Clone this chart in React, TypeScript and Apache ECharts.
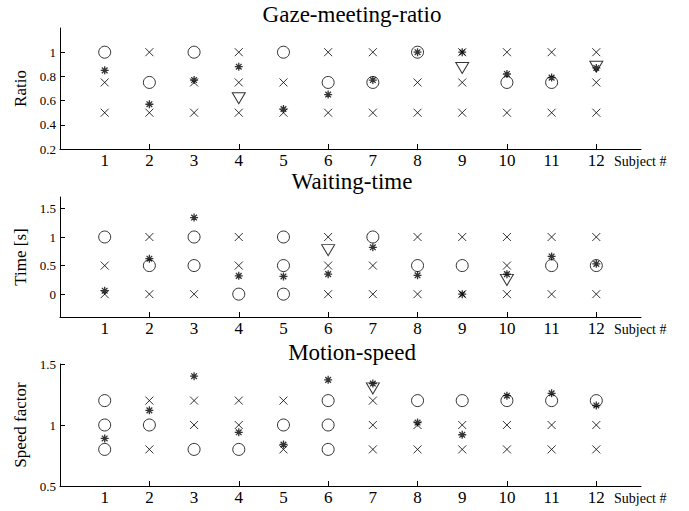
import React, { useEffect, useRef } from 'react';
import * as echarts from 'echarts';

const subjects = [1, 2, 3, 4, 5, 6, 7, 8, 9, 10, 11, 12];
const xLabelValues = subjects;
const xTickValues = [2, 4, 6, 8, 10, 12];

// Gaze-meeting-ratio
const gazeLevels = [1, 0.75, 0.5];
const gazeMarksHigh = ['o', 'x', 'o', 'x', 'o', 'x', 'x', 'o', 'x', 'x', 'x', 'x'];
const gazeMarksMid = ['x', 'o', 'x', 'x', 'x', 'o', 'o', 'x', 'x', 'o', 'o', 'x'];
const gazeMarksLow = ['x', 'x', 'x', 'x', 'x', 'x', 'x', 'x', 'x', 'x', 'x', 'x'];
const gazeMeasured = [0.85, 0.57, 0.77, 0.88, 0.53, 0.65, 0.77, 1.0, 1.0, 0.82, 0.79, 0.87];
const gazeTriangleSubjects = [4, 9, 12];
const gazeTriangleValues = [0.62, 0.87, 0.88];
const gazeTicks = [0.2, 0.4, 0.6, 0.8, 1];

// Waiting-time
const waitLevels = [1, 0.5, 0];
const waitMarksHigh = ['o', 'x', 'o', 'x', 'o', 'x', 'o', 'x', 'x', 'x', 'x', 'x'];
const waitMarksMid = ['x', 'o', 'o', 'x', 'o', 'x', 'x', 'o', 'o', 'x', 'o', 'o'];
const waitMarksLow = ['x', 'x', 'x', 'o', 'o', 'x', 'x', 'x', 'x', 'x', 'x', 'x'];
const waitMeasured = [0.06, 0.62, 1.34, 0.32, 0.31, 0.35, 0.82, 0.33, 0.0, 0.35, 0.66, 0.53];
const waitTriangleSubjects = [6, 10];
const waitTriangleValues = [0.77, 0.25];
const waitTicks = [0, 0.5, 1, 1.5];

// Motion-speed
const speedLevels = [1.2, 1.0, 0.8];
const speedMarksHigh = ['o', 'x', 'x', 'x', 'x', 'o', 'x', 'o', 'o', 'o', 'o', 'o'];
const speedMarksMid = ['o', 'o', 'x', 'x', 'o', 'o', 'x', 'x', 'x', 'x', 'x', 'x'];
const speedMarksLow = ['o', 'x', 'o', 'o', 'x', 'o', 'x', 'x', 'x', 'x', 'x', 'x'];
const speedMeasured = [0.89, 1.12, 1.4, 0.94, 0.84, 1.37, 1.34, 1.02, 0.92, 1.24, 1.26, 1.16];
const speedTriangleSubjects = [7];
const speedTriangleValues = [1.3];
const speedTicks = [0.5, 1, 1.5];

const titles = ['Gaze-meeting-ratio', 'Waiting-time', 'Motion-speed'];
const yNames = ['Ratio', 'Time [s]', 'Speed factor'];
const yRanges = [
  [0.2, 1.2],
  [-0.4, 1.7],
  [0.5, 1.5],
];

const FONT = 'Liberation Serif';
const CROSS = 'path://M0 0L10 10M10 0L0 10';
const STAR = 'path://M5 0L5 10M0 5L10 5M1.46 1.46L8.54 8.54M8.54 1.46L1.46 8.54';
const TRI = 'path://M0 0L12 0L6 10Z';

const grids = [
  { left: 60, top: 28, width: 581, height: 121 },
  { left: 60, top: 197, width: 581, height: 120 },
  { left: 60, top: 364, width: 581, height: 122 },
];

const panels = [
  {
    levels: gazeLevels,
    marks: [gazeMarksHigh, gazeMarksMid, gazeMarksLow],
    measured: gazeMeasured,
    triS: gazeTriangleSubjects,
    triV: gazeTriangleValues,
    ticks: gazeTicks,
  },
  {
    levels: waitLevels,
    marks: [waitMarksHigh, waitMarksMid, waitMarksLow],
    measured: waitMeasured,
    triS: waitTriangleSubjects,
    triV: waitTriangleValues,
    ticks: waitTicks,
  },
  {
    levels: speedLevels,
    marks: [speedMarksHigh, speedMarksMid, speedMarksLow],
    measured: speedMeasured,
    triS: speedTriangleSubjects,
    triV: speedTriangleValues,
    ticks: speedTicks,
  },
];

const stroke = (w: number) => ({
  color: 'rgba(0,0,0,0)',
  borderColor: '#000',
  borderWidth: w,
});

export default function App() {
  const ref = useRef<HTMLDivElement>(null);
  useEffect(() => {
    document.body.style.margin = '0';
    if (!ref.current) return;
    const chart = echarts.init(ref.current, undefined, { renderer: 'svg' });

    const series: any[] = [];
    panels.forEach((p, i) => {
      const crosses: number[][] = [];
      const circles: number[][] = [];
      p.levels.forEach((lv, li) => {
        subjects.forEach((s, si) => {
          if (p.marks[li][si] === 'o') circles.push([s, lv]);
          else crosses.push([s, lv]);
        });
      });
      const stars = subjects.map((s, si) => [s, p.measured[si]]);
      const tris = p.triS.map((s, k) => [s, p.triV[k]]);
      const base = { type: 'scatter', xAxisIndex: i, yAxisIndex: i, silent: true, emphasis: { disabled: true } };
      series.push({ ...base, data: crosses, symbol: CROSS, symbolSize: 8, itemStyle: stroke(1) });
      series.push({ ...base, data: circles, symbol: 'circle', symbolSize: 12, itemStyle: stroke(1) });
      series.push({ ...base, data: tris, symbol: TRI, symbolSize: [13, 11], itemStyle: stroke(1) });
      series.push({ ...base, data: stars, symbol: STAR, symbolSize: 8, itemStyle: stroke(1.3) });
    });

    const graphic: any[] = [];
    const titleY = [14, 181, 352];
    titles.forEach((t, i) => {
      graphic.push({
        type: 'text',
        x: 352,
        y: titleY[i],
        style: {
          text: t,
          fontFamily: FONT,
          fontSize: 23,
          fill: '#000',
          align: 'center',
          verticalAlign: 'middle',
        },
      });
      const g = grids[i];
      graphic.push({
        type: 'text',
        x: 614,
        y: g.top + g.height + 12,
        style: {
          text: 'Subject #',
          fontFamily: FONT,
          fontSize: 14,
          fill: '#000',
          align: 'left',
          verticalAlign: 'middle',
        },
      });
    });

    chart.setOption({
      animation: false,
      backgroundColor: '#fff',
      grid: grids.map((g) => ({ ...g, outerBoundsMode: 'none', containLabel: false })),
      xAxis: grids.map((_, i) => ({
        type: 'value',
        gridIndex: i,
        min: 0,
        max: 13,
        axisLine: { show: true, onZero: false, lineStyle: { color: '#000', width: 1 } },
        axisTick: { show: true, inside: true, length: 5, customValues: xTickValues, lineStyle: { color: '#000' } },
        axisLabel: { show: true, customValues: xLabelValues, margin: 3, color: '#000', fontSize: 17, fontFamily: FONT },
        splitLine: { show: false },
      })),
      yAxis: grids.map((_, i) => ({
        type: 'value',
        gridIndex: i,
        min: yRanges[i][0],
        max: yRanges[i][1],
        name: yNames[i],
        nameLocation: 'middle',
        nameGap: 27,
        nameTextStyle: { color: '#000', fontSize: 17, fontFamily: FONT },
        axisLine: { show: true, onZero: false, lineStyle: { color: '#000', width: 1 } },
        axisTick: { show: true, inside: true, length: 5, customValues: panels[i].ticks, lineStyle: { color: '#000' } },
        axisLabel: { show: true, customValues: panels[i].ticks, margin: 4, color: '#000', fontSize: 13, fontFamily: FONT },
        splitLine: { show: false },
      })),
      graphic,
      series,
    });
    return () => chart.dispose();
  }, []);
  return <div ref={ref} style={{ width: 689, height: 511 }} />;
}
